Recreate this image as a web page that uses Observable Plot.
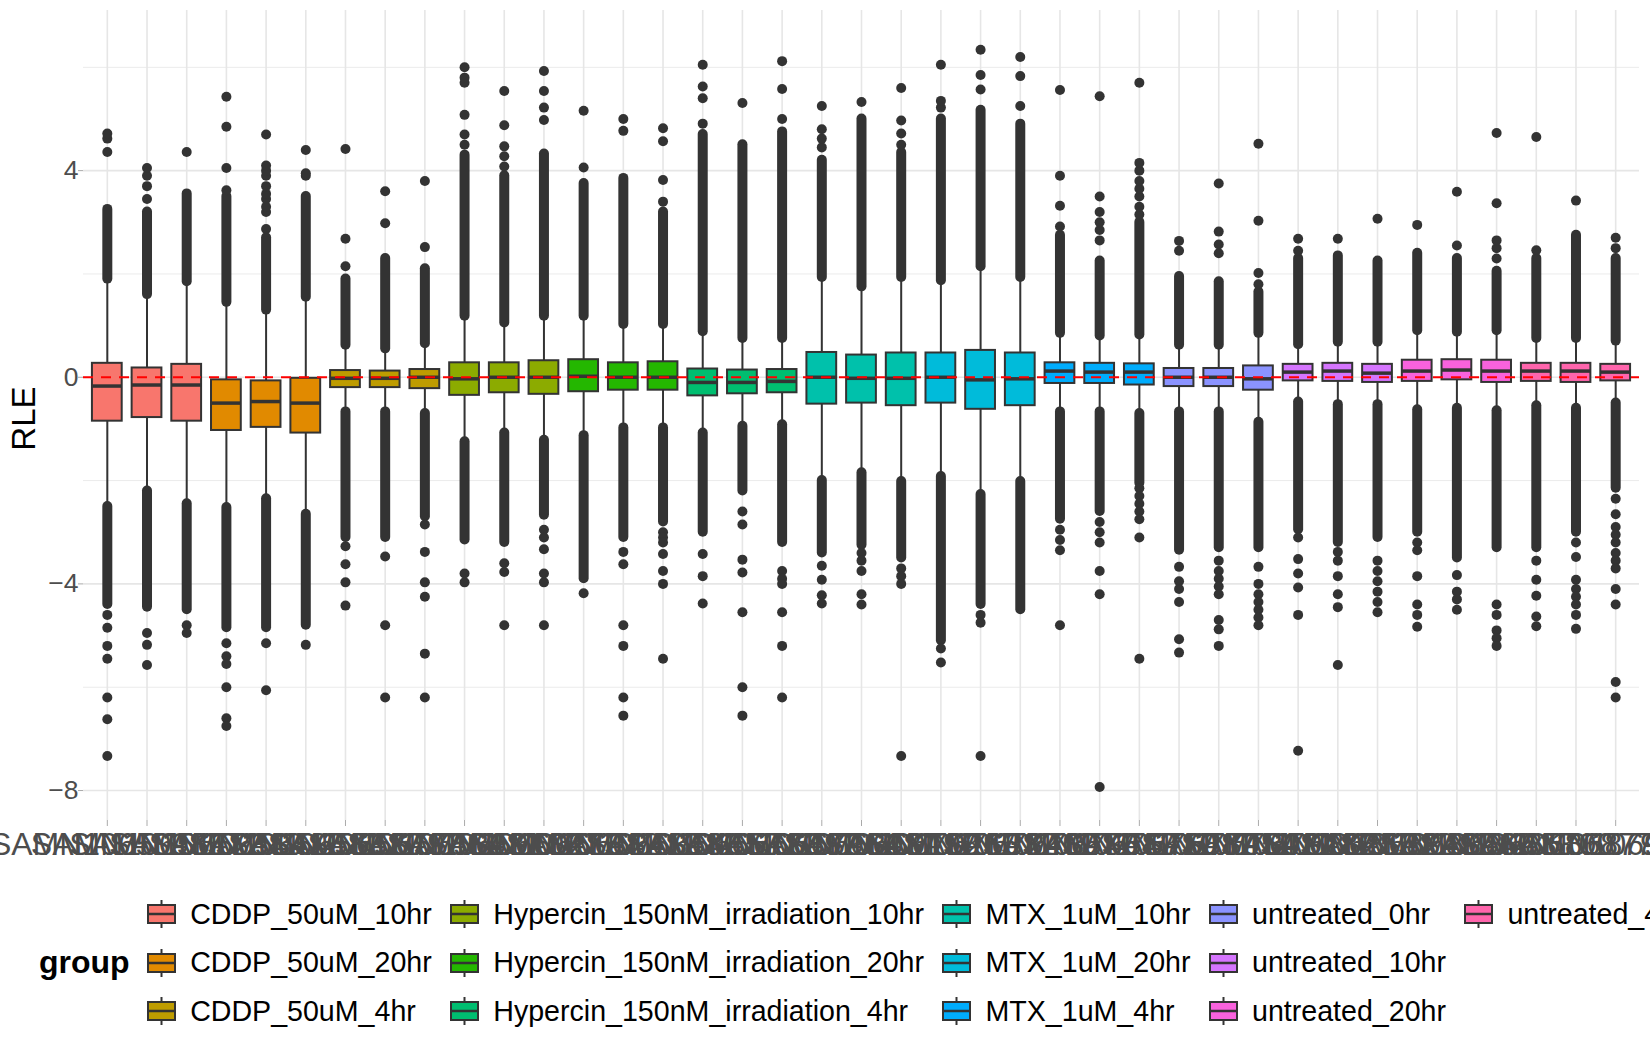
<!DOCTYPE html>
<html><head><meta charset="utf-8">
<script src="https://cdn.jsdelivr.net/npm/d3@7"></script>
<script src="https://cdn.jsdelivr.net/npm/@observablehq/plot@0.6"></script>
<style>
html,body{margin:0;padding:0;background:#fff;overflow:hidden;}
#wrap{position:relative;width:1650px;height:1050px;font-family:"Liberation Sans",Arial,sans-serif;}
#legend{position:absolute;left:39px;top:890px;display:flex;align-items:center;}
#legend .ttl{font-weight:bold;font-size:32px;margin-right:17px;color:#000;}
#legend .cols{display:flex;gap:18px;}
#legend .col{display:flex;flex-direction:column;}
#legend .item{height:48.5px;display:flex;align-items:center;white-space:nowrap;}
#legend .item span{margin-left:14.5px;font-size:28.6px;color:#000;}
</style></head>
<body><div id="wrap"><div id="chart"></div><div id="legend"></div></div>
<script>
const groups = ["CDDP_50uM_10hr","CDDP_50uM_20hr","CDDP_50uM_4hr",
  "Hypercin_150nM_irradiation_10hr","Hypercin_150nM_irradiation_20hr","Hypercin_150nM_irradiation_4hr",
  "MTX_1uM_10hr","MTX_1uM_20hr","MTX_1uM_4hr","untreated_0hr","untreated_10hr","untreated_20hr","untreated_4hr"];
const groupColors = ["#F8766D","#E18A00","#BE9C00","#8CAB00","#24B700","#00BE70","#00C1AB","#00BBDA","#00ACFC","#8B93FF","#D575FE","#F962DD","#FF65AC"];

const samples = [
"SAMN10650985","SAMN10651172","SAMN10652349","SAMN10653416","SAMN10654583","SAMN10655620",
"SAMN10656797","SAMN10657864","SAMN10658931","SAMN10659108","SAMN10660275","SAMN10661342",
"SAMN10662419","SAMN10663586","SAMN10664653","SAMN10665720","SAMN10666897","SAMN10667964",
"SAMN10668031","SAMN10669198","SAMN10670265","SAMN10671332","SAMN10672409","SAMN10673576",
"SAMN10674643","SAMN10675710","SAMN10676887","SAMN10677954","SAMN10678021","SAMN10679188",
"SAMN10680255","SAMN10681322","SAMN10682499","SAMN10683566","SAMN10684633","SAMN10685700",
"SAMN10686877","SAMN10687944","SAMN10690985"];

const sampleGroup = [
"CDDP_50uM_10hr","CDDP_50uM_10hr","CDDP_50uM_10hr",
"CDDP_50uM_20hr","CDDP_50uM_20hr","CDDP_50uM_20hr",
"CDDP_50uM_4hr","CDDP_50uM_4hr","CDDP_50uM_4hr",
"Hypercin_150nM_irradiation_10hr","Hypercin_150nM_irradiation_10hr","Hypercin_150nM_irradiation_10hr",
"Hypercin_150nM_irradiation_20hr","Hypercin_150nM_irradiation_20hr","Hypercin_150nM_irradiation_20hr",
"Hypercin_150nM_irradiation_4hr","Hypercin_150nM_irradiation_4hr","Hypercin_150nM_irradiation_4hr",
"MTX_1uM_10hr","MTX_1uM_10hr","MTX_1uM_10hr",
"MTX_1uM_20hr","MTX_1uM_20hr","MTX_1uM_20hr",
"MTX_1uM_4hr","MTX_1uM_4hr","MTX_1uM_4hr",
"untreated_0hr","untreated_0hr","untreated_0hr",
"untreated_10hr","untreated_10hr","untreated_10hr",
"untreated_20hr","untreated_20hr","untreated_20hr",
"untreated_4hr","untreated_4hr","untreated_4hr"];

const q1 = [-0.85,-0.78,-0.85,-1.03,-0.97,-1.08,-0.20,-0.20,-0.22,-0.35,-0.30,-0.33,-0.28,-0.25,-0.25,-0.36,-0.32,-0.30,
  -0.52,-0.50,-0.55,-0.50,-0.62,-0.55,-0.12,-0.12,-0.15,-0.18,-0.18,-0.25,-0.07,-0.08,-0.10,-0.08,-0.05,-0.10,-0.08,-0.10,-0.07];
const median = [-0.17,-0.15,-0.15,-0.50,-0.47,-0.50,-0.02,-0.02,0.00,-0.03,0.00,0.00,0.02,0.00,0.00,-0.10,-0.10,-0.08,
  0.00,-0.02,-0.02,0.00,-0.05,-0.03,0.12,0.10,0.10,0.00,0.00,-0.03,0.10,0.12,0.08,0.12,0.14,0.12,0.12,0.12,0.10];
const q3 = [0.27,0.18,0.25,-0.05,-0.07,-0.02,0.13,0.12,0.15,0.28,0.28,0.32,0.34,0.28,0.30,0.16,0.14,0.15,
  0.48,0.43,0.47,0.47,0.52,0.47,0.28,0.27,0.26,0.17,0.17,0.22,0.25,0.27,0.25,0.33,0.34,0.33,0.27,0.27,0.25];
const whiskerLow = [-2.50,-2.20,-2.45,-2.52,-2.35,-2.65,-0.67,-0.67,-0.70,-1.25,-1.08,-1.22,-1.13,-0.98,-0.98,-1.08,-0.95,-0.92,
  -2.00,-1.85,-2.02,-1.92,-2.27,-2.02,-0.67,-0.67,-0.70,-0.67,-0.67,-0.87,-0.48,-0.53,-0.53,-0.63,-0.60,-0.65,-0.55,-0.60,-0.50];
const whiskerHigh = [1.90,1.60,1.85,1.45,1.30,1.55,0.62,0.55,0.65,1.18,1.05,1.18,1.18,1.02,1.02,0.88,0.75,0.75,
  1.93,1.75,1.93,1.87,2.14,1.93,0.85,0.80,0.82,0.62,0.62,0.85,0.63,0.68,0.68,0.90,0.87,0.90,0.75,0.75,0.70];
const denseLowEnd = [-4.40,-4.45,-4.50,-4.85,-4.85,-4.80,-3.10,-3.10,-2.70,-3.15,-3.20,-2.67,-3.90,-3.10,-2.80,-3.00,-2.20,-3.20,
  -3.40,-3.25,-3.50,-5.10,-4.40,-4.50,-2.75,-2.60,-2.05,-3.35,-3.30,-3.30,-2.95,-3.20,-3.10,-3.00,-3.50,-3.30,-3.30,-3.00,-2.15];
const denseHighEnd = [3.25,3.20,3.55,3.50,2.70,3.50,1.90,2.30,2.10,4.30,3.90,4.32,3.75,3.85,3.20,4.70,4.50,4.75,
  4.20,5.00,4.35,5.00,5.17,4.90,2.75,2.25,3.00,1.95,1.85,1.65,2.30,2.35,2.25,2.40,2.30,2.05,2.30,2.75,2.30];
const outliers = [
  [4.36,4.62,4.72,-4.6,-4.85,-5.2,-5.45,-6.2,-6.62,-7.33],
  [3.45,3.7,3.9,4.05,-4.95,-5.18,-5.57],
  [4.36,-4.8,-4.95],
  [3.62,4.05,4.85,5.43,-5.15,-5.4,-5.55,-6.0,-6.6,-6.75],
  [2.87,3.2,3.3,3.45,3.55,3.7,3.9,4.0,4.1,4.7,-5.15,-6.06],
  [3.9,3.95,4.4,-5.18],
  [2.15,2.68,4.42,-3.27,-3.62,-3.97,-4.42],
  [2.98,3.6,-3.47,-4.8,-6.2],
  [2.52,3.8,-2.85,-3.38,-3.97,-4.25,-5.35,-6.2],
  [4.5,4.7,5.08,5.7,5.8,6.0,-3.8,-3.97],
  [4.08,4.28,4.47,4.88,5.54,-3.6,-3.77,-4.8],
  [4.98,5.22,5.54,5.93,-2.95,-3.1,-3.33,-3.8,-3.97,-4.8],
  [4.06,5.16,-4.18],
  [4.77,5.0,-3.38,-3.62,-4.8,-5.2,-6.2,-6.55],
  [3.4,3.82,4.57,4.82,-3.0,-3.1,-3.2,-3.42,-3.75,-4.0,-5.45],
  [4.91,5.4,5.63,6.05,-3.42,-3.85,-4.38],
  [5.31,-2.6,-2.85,-3.53,-3.78,-4.55,-6.0,-6.55],
  [5.0,5.58,6.12,-3.75,-3.9,-4.0,-4.55,-5.2,-6.2],
  [4.45,4.62,4.8,5.25,-3.65,-3.92,-4.22,-4.38],
  [5.33,-3.4,-3.55,-3.75,-4.2,-4.4],
  [4.5,4.72,4.97,5.6,-3.7,-3.85,-4.0,-7.33],
  [5.22,5.35,6.05,-5.25,-5.52],
  [5.57,5.85,6.34,-4.6,-4.75,-7.33],
  [5.25,5.83,6.2],
  [2.92,3.32,3.9,5.56,-2.95,-3.15,-3.35,-4.8],
  [2.65,2.85,3.0,3.2,3.5,5.44,-2.8,-3.0,-3.2,-3.75,-4.2,-7.93],
  [3.15,3.3,3.5,3.65,3.8,4.0,4.15,5.7,-2.15,-2.3,-2.45,-2.6,-2.75,-3.1,-5.45],
  [2.45,2.64,-3.67,-3.95,-4.1,-4.35,-5.07,-5.33],
  [2.4,2.57,2.82,3.75,-3.55,-3.75,-3.9,-4.05,-4.2,-4.7,-4.88,-5.2],
  [1.8,2.02,3.03,4.52,-3.67,-4.0,-4.2,-4.35,-4.5,-4.65,-4.8],
  [2.45,2.68,-3.1,-3.52,-3.8,-4.07,-4.6,-7.23],
  [2.68,-3.38,-3.55,-3.85,-4.2,-4.45,-5.57],
  [3.07,-3.55,-3.75,-3.95,-4.15,-4.35,-4.55],
  [2.95,-3.2,-3.35,-3.85,-4.4,-4.6,-4.83],
  [2.55,3.59,-3.83,-4.15,-4.3,-4.5],
  [2.3,2.5,2.65,3.37,4.73,-4.4,-4.6,-4.9,-5.05,-5.2],
  [2.46,4.65,-3.55,-3.92,-4.23,-4.63,-4.82],
  [3.42,-3.2,-3.48,-3.92,-4.1,-4.25,-4.4,-4.6,-4.87],
  [2.5,2.7,-2.35,-2.65,-2.9,-3.05,-3.2,-3.4,-3.55,-3.7,-4.1,-4.4,-5.9,-6.2]
];
const yTicks = [-8,-4,0,4];
const yMinor = [-6,-2,2,6];
const yLabel = "RLE";
const legendTitle = "group";

const rows = samples.map((s,i)=>({sample:s, group:sampleGroup[i], q1:q1[i], med:median[i], q3:q3[i],
  wlo:whiskerLow[i], whi:whiskerHigh[i], dlo:denseLowEnd[i], dhi:denseHighEnd[i]}));
const pts = outliers.flatMap((arr,i)=>arr.map(v=>({sample:samples[i], v})));
const dark = "#333333";

const chart = Plot.plot({
  width:1650, height:880, marginLeft:83, marginRight:11, marginTop:10, marginBottom:60,
  style:{fontFamily:'"Liberation Sans", Arial, sans-serif', fontSize:"26px", background:"white"},
  x:{type:"band", domain:samples, paddingInner:0.25, paddingOuter:0.225, round:false, axis:null},
  y:{domain:[-8.58,7.1], axis:null},
  color:{domain:groups, range:groupColors},
  marks:[
    Plot.ruleY(yMinor,{stroke:"#EBEBEB", strokeWidth:1}),
    Plot.ruleY(yTicks,{stroke:"#E6E6E6", strokeWidth:1.6}),
    Plot.ruleX(samples,{x:d=>d, stroke:"#E6E6E6", strokeWidth:1.6}),
    Plot.axisY({ticks:yTicks, tickSize:5, tickPadding:0, fill:"#4D4D4D", stroke:"#AAAAAA", fontSize:26.5, label:null}),
    Plot.axisX({tickSize:6, tickPadding:6, fill:"#4D4D4D", stroke:"#AAAAAA", fontSize:32, label:null}),
    Plot.text([yLabel],{frameAnchor:"left", y:()=>-0.8, dx:-59, rotate:-90, textAnchor:"middle", fontSize:33, fill:"black", text:d=>d}),
    Plot.ruleX(rows,{x:"sample", y1:"wlo", y2:"whi", stroke:dark, strokeWidth:2}),
    Plot.ruleX(rows,{x:"sample", y1:"wlo", y2:"dlo", stroke:dark, strokeWidth:10, strokeLinecap:"round"}),
    Plot.ruleX(rows,{x:"sample", y1:"whi", y2:"dhi", stroke:dark, strokeWidth:10, strokeLinecap:"round"}),
    Plot.dot(pts,{x:"sample", y:"v", r:5, fill:dark, stroke:null}),
    Plot.barY(rows,{x:"sample", y1:"q1", y2:"q3", fill:"group", stroke:dark, strokeWidth:2}),
    Plot.tickY(rows,{x:"sample", y:"med", stroke:dark, strokeWidth:3.5}),
    Plot.ruleY([0],{stroke:"red", strokeWidth:2.2, strokeDasharray:"10,8"})
  ]
});
document.getElementById("chart").appendChild(chart);

const legend = document.getElementById("legend");
const ttl = document.createElement("div"); ttl.className="ttl"; ttl.textContent=legendTitle; legend.appendChild(ttl);
const cols = document.createElement("div"); cols.className="cols"; legend.appendChild(cols);
for (let c=0;c<5;c++){
  const col=document.createElement("div"); col.className="col";
  for (let r=0;r<3;r++){
    const k=c*3+r; if(k>=groups.length) break;
    const it=document.createElement("div"); it.className="item";
    it.innerHTML=`<svg width="29" height="28" style="overflow:visible"><line x1="14.5" x2="14.5" y1="0" y2="28" stroke="${dark}" stroke-width="2"/><rect x="1" y="5" width="27" height="18" fill="${groupColors[k]}" stroke="${dark}" stroke-width="2"/><line x1="1" x2="28" y1="14" y2="14" stroke="${dark}" stroke-width="2.5"/></svg><span>${groups[k]}</span>`;
    col.appendChild(it);
  }
  cols.appendChild(col);
}
</script>
</body></html>
